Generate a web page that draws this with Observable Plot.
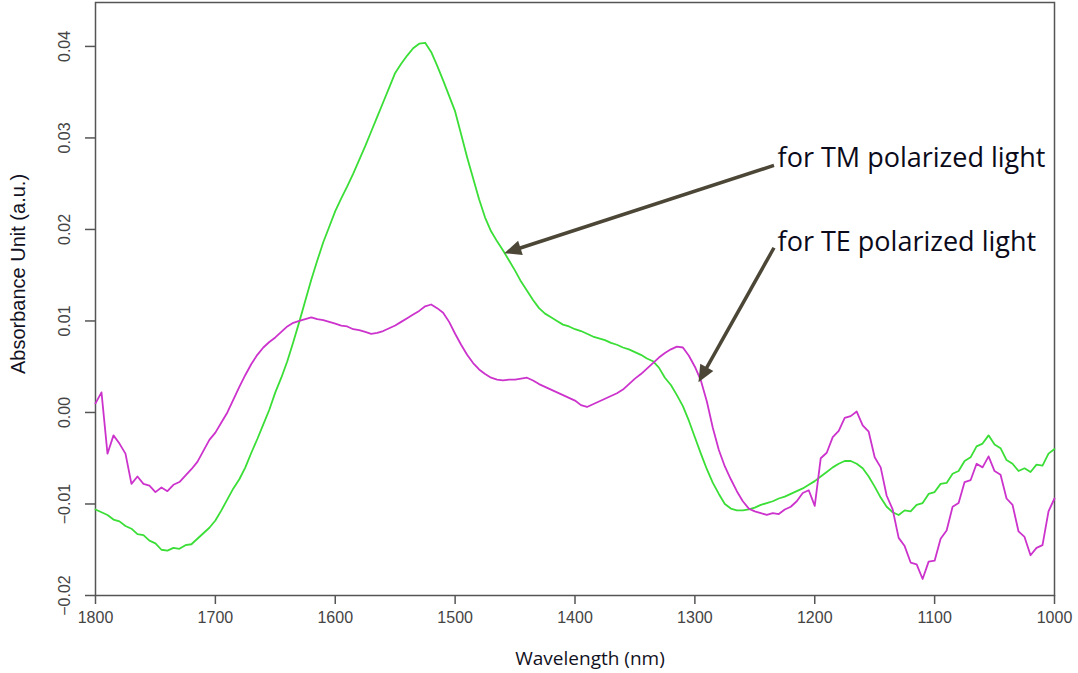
<!DOCTYPE html>
<html>
<head>
<meta charset="utf-8">
<script src="https://cdn.jsdelivr.net/npm/d3@7"></script>
<script src="https://cdn.jsdelivr.net/npm/@observablehq/plot@0.6"></script>
<style>
  html, body { margin: 0; padding: 0; background: #fff; }
</style>
</head>
<body>
<div id="chart"></div>
<script>
// Wavelength grid (nm), sampled every 5 nm from 1800 down to 1000
const wavelength = d3.range(1800, 999, -5);

// TM polarized light absorbance (green)
const tmAbs = [
  -0.0106,-0.0109,-0.0112,-0.0117,-0.0119,-0.0124,-0.0127,-0.0133,-0.0134,-0.0140,
  -0.0143,-0.0150,-0.0151,-0.0148,-0.0149,-0.0145,-0.0144,-0.0138,-0.0132,-0.0126,
  -0.0118,-0.0107,-0.0095,-0.0083,-0.0073,-0.0060,-0.0044,-0.0029,-0.0013,0.0003,
  0.0022,0.0038,0.0056,0.0077,0.0099,0.0122,0.0145,0.0166,0.0186,0.0203,
  0.0220,0.0234,0.0247,0.0261,0.0276,0.0291,0.0307,0.0323,0.0339,0.0355,
  0.0371,0.0381,0.0390,0.0398,0.0403,0.0404,0.0394,0.0379,0.0363,0.0346,
  0.0329,0.0304,0.0279,0.0256,0.0233,0.0213,0.0198,0.0187,0.0177,0.0166,
  0.0155,0.0143,0.0133,0.0123,0.0114,0.0108,0.0104,0.0100,0.0096,0.0094,
  0.0091,0.0089,0.0086,0.0083,0.0081,0.0079,0.0076,0.0074,0.0071,0.0069,
  0.0066,0.0063,0.0059,0.0056,0.0049,0.0038,0.0030,0.0019,0.0007,-0.0009,
  -0.0027,-0.0045,-0.0062,-0.0077,-0.0089,-0.0100,-0.0105,-0.0107,-0.0107,-0.0106,
  -0.0104,-0.0101,-0.0099,-0.0097,-0.0094,-0.0092,-0.0089,-0.0086,-0.0083,-0.0079,
  -0.0075,-0.0070,-0.0065,-0.0060,-0.0056,-0.0053,-0.0053,-0.0056,-0.0061,-0.0070,
  -0.0081,-0.0093,-0.0103,-0.0109,-0.0112,-0.0107,-0.0108,-0.0101,-0.0099,-0.0089,
  -0.0087,-0.0078,-0.0077,-0.0067,-0.0064,-0.0053,-0.0049,-0.0037,-0.0034,-0.0025,
  -0.0035,-0.0039,-0.0052,-0.0056,-0.0064,-0.0061,-0.0065,-0.0057,-0.0058,-0.0045,
  -0.0040
];

// TE polarized light absorbance (magenta)
const teAbs = [
  0.0010,0.0022,-0.0045,-0.0025,-0.0034,-0.0045,-0.0078,-0.0070,-0.0078,-0.0080,
  -0.0087,-0.0082,-0.0086,-0.0079,-0.0076,-0.0069,-0.0062,-0.0054,-0.0042,-0.0030,
  -0.0022,-0.0011,0.0000,0.0014,0.0028,0.0041,0.0053,0.0063,0.0071,0.0077,
  0.0082,0.0088,0.0094,0.0098,0.0100,0.0102,0.0104,0.0102,0.0101,0.0099,
  0.0097,0.0095,0.0094,0.0091,0.0090,0.0088,0.0086,0.0087,0.0089,0.0092,
  0.0095,0.0099,0.0103,0.0107,0.0111,0.0116,0.0118,0.0114,0.0109,0.0099,
  0.0086,0.0074,0.0063,0.0054,0.0047,0.0042,0.0038,0.0036,0.0035,0.0036,
  0.0036,0.0037,0.0038,0.0035,0.0031,0.0028,0.0025,0.0022,0.0019,0.0016,
  0.0013,0.0008,0.0006,0.0009,0.0012,0.0015,0.0018,0.0021,0.0025,0.0031,
  0.0037,0.0042,0.0048,0.0054,0.0060,0.0065,0.0069,0.0072,0.0071,0.0062,
  0.0050,0.0035,0.0012,-0.0017,-0.0041,-0.0059,-0.0073,-0.0086,-0.0097,-0.0105,
  -0.0108,-0.0110,-0.0112,-0.0110,-0.0111,-0.0106,-0.0103,-0.0097,-0.0088,-0.0085,
  -0.0102,-0.0050,-0.0044,-0.0027,-0.0020,-0.0006,-0.0004,0.0001,-0.0014,-0.0021,
  -0.0049,-0.0060,-0.0091,-0.0106,-0.0137,-0.0146,-0.0164,-0.0166,-0.0182,-0.0163,
  -0.0162,-0.0138,-0.0129,-0.0103,-0.0099,-0.0076,-0.0074,-0.0056,-0.0060,-0.0048,
  -0.0064,-0.0068,-0.0094,-0.0101,-0.0130,-0.0136,-0.0156,-0.0148,-0.0145,-0.0108,
  -0.0094
];

// Axis ticks
const xTicks = [1800, 1700, 1600, 1500, 1400, 1300, 1200, 1100, 1000];
const yTicks = [-0.02, -0.01, 0.00, 0.01, 0.02, 0.03, 0.04];

// Annotations (in data coordinates)
const annLabels = ["for TM polarized light", "for TE polarized light"];
const annTextX = [1231, 1231];
const annTextY = [0.0278, 0.0186];
const arrowX1 = [1234, 1234];
const arrowY1 = [0.0270, 0.0180];
const arrowX2 = [1459, 1297];
const arrowY2 = [0.0174, 0.0033];

const tmData = wavelength.map((w, i) => ({w, a: tmAbs[i]}));
const teData = wavelength.map((w, i) => ({w, a: teAbs[i]}));

const axisColor = "#555";
const arrowColor = "#4b4636";
const fmt = d3.format(".2f");

const base = {
  width: 1078,
  height: 673,
  marginLeft: 95,
  marginRight: 24,
  marginTop: 2,
  marginBottom: 78,
  style: {fontFamily: "'Liberation Sans', Arial, sans-serif", background: "#fff", color: "#444"},
  x: {domain: [1800, 1000], label: null},
  y: {domain: [-0.02, 0.0448], label: null}
};

// First pass: obtain the scales so arrowheads can be oriented in screen space
const probe = Plot.plot({...base, marks: [Plot.frame()]});
const sxd = probe.scale("x"), syd = probe.scale("y");
const sx = d3.scaleLinear(sxd.domain, sxd.range);
const sy = d3.scaleLinear(syd.domain, syd.range);

const annData = annLabels.map((t, i) => {
  const p1 = [sx(arrowX1[i]), sy(arrowY1[i])];
  const p2 = [sx(arrowX2[i]), sy(arrowY2[i])];
  const len = Math.hypot(p2[0] - p1[0], p2[1] - p1[1]);
  const ux = (p2[0] - p1[0]) / len, uy = (p2[1] - p1[1]) / len;
  const back = 12;
  return {
    t, tx: annTextX[i], ty: annTextY[i],
    x1: arrowX1[i], y1: arrowY1[i],
    xe: sx.invert(p2[0] - ux * back), ye: sy.invert(p2[1] - uy * back),
    x2: arrowX2[i], y2: arrowY2[i],
    angle: Math.atan2(ux, -uy) * 180 / Math.PI
  };
});

// Filled arrowhead with its tip at the origin, pointing up
const arrowHead = {
  draw(context) {
    context.moveTo(0, 0);
    context.lineTo(7.5, 17);
    context.lineTo(-7.5, 17);
    context.closePath();
  }
};

const chart = Plot.plot({
  ...base,
  marks: [
    Plot.frame({stroke: axisColor, strokeWidth: 1.5}),
    Plot.axisX({ticks: xTicks, tickSize: 9, tickPadding: 7, fontSize: 16, tickFormat: d => String(d), stroke: axisColor, strokeWidth: 1.5, label: null}),
    Plot.axisY({ticks: yTicks, tickSize: 10, tickFormat: () => "", stroke: axisColor, strokeWidth: 1.5, label: null}),
    Plot.text(yTicks, {y: d => d, frameAnchor: "left", dx: -31, rotate: -90, text: d => fmt(d), fontSize: 16, fill: "#444", textAnchor: "middle", lineAnchor: "middle"}),
    Plot.line(tmData, {x: "w", y: "a", stroke: "#3ade36", strokeWidth: 1.8}),
    Plot.line(teData, {x: "w", y: "a", stroke: "#cc33cc", strokeWidth: 1.8}),
    Plot.link(annData, {x1: "x1", y1: "y1", x2: "xe", y2: "ye", stroke: arrowColor, strokeWidth: 3.5}),
    Plot.dot(annData, {x: "x2", y: "y2", rotate: "angle", symbol: arrowHead, fill: arrowColor, stroke: "none", r: 5}),
    Plot.text(annData, {x: "tx", y: "ty", text: "t", textAnchor: "start", lineAnchor: "middle", fontSize: 27, fill: "#0a0a1a", fontFamily: "'Open Sans', sans-serif"}),
    Plot.text(["Wavelength (nm)"], {frameAnchor: "bottom", dx: 15, dy: 63, fontSize: 19, fill: "#111122", fontFamily: "'Open Sans', sans-serif", lineAnchor: "middle", textAnchor: "middle"}),
    Plot.text(["Absorbance Unit (a.u.)"], {frameAnchor: "left", dx: -77, dy: -25, rotate: -90, fontSize: 20, fill: "#111122", lineAnchor: "middle", textAnchor: "middle"})
  ]
});
document.getElementById("chart").appendChild(chart);
</script>
</body>
</html>
